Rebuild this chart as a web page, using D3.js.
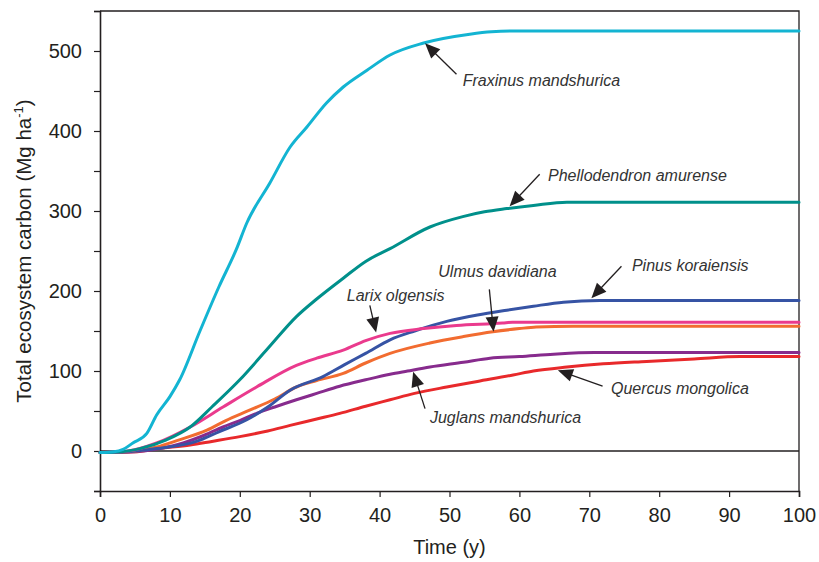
<!DOCTYPE html>
<html>
<head>
<meta charset="utf-8">
<script src="https://cdn.jsdelivr.net/npm/d3@7"></script>
<style>
  html, body { margin: 0; padding: 0; background: #fff; }
  svg { display: block; font-family: Arial, "Liberation Sans", sans-serif; }
</style>
</head>
<body>
<svg id="chart" width="819" height="562"></svg>
<script>
// Simulated total ecosystem carbon (Mg ha-1) over time (y) for seven tree species
const fraxinus = [[0,-2],[2,-1],[3.3,2],[4.7,10],[6.7,22],[8.1,45],[10,68],[11.4,89],[14.3,150],[17,205],[19.5,252],[21,285],[24.3,335],[27.2,380],[29.6,405],[32.4,435],[34.8,455],[38.2,476],[41.5,495],[46.3,510],[52.9,521],[56,524],[59.6,525],[100,525]];
const phellodendron = [[0,-2],[3,-1],[5.7,3],[9.5,14],[12.9,30],[16,55],[20,89],[24,128],[28.1,168],[31,190],[34.8,216],[38,237],[41.5,253],[47.2,280],[51.9,293],[55,299],[58.2,303],[62,307],[66.8,311],[100,311]];
const pinus = [[0,-2],[4,-1],[8.1,3],[13.8,12],[17,24],[21,39],[24,55],[27.2,76],[31.9,93],[35,108],[38,122],[41.5,139],[45,150],[49.6,162],[54,170],[58.2,176],[62,181],[66.3,186],[71.5,188],[100,188]];
const larix = [[0,-2],[4,0],[8.1,10],[12.9,30],[17.6,55],[22.4,80],[28.1,107],[31,116],[34.8,126],[38,138],[41.5,147],[46.3,153],[51,157],[57.6,160],[59,161],[100,161]];
const ulmus = [[0,-2],[4,-1],[8.1,5],[11,13],[15.3,26],[18,38],[21.4,51],[25,65],[28.1,80],[31,88],[34.8,97],[38,110],[41.5,122],[47.2,135],[52,143],[56.2,149],[60,153],[62.4,155],[67.7,156],[100,156]];
const juglans = [[0,-2],[5,-1],[8.5,3],[11.9,10],[15,20],[17.6,30],[20,38],[22.4,47],[25,55],[28.1,64],[31,72],[34.3,81],[38,89],[41.5,96],[44,100],[47.2,105],[52,111],[55.8,116],[60,118],[64.9,121],[70.7,123],[100,123]];
const quercus = [[0,-2],[5,-1],[8.1,3],[12.9,7.5],[16,12],[20,18],[24,25],[27.2,32],[31,40],[34.3,47],[38,56],[41.5,64],[45,72],[49.6,80],[54,87],[59.1,95],[62,100],[66.8,105],[72,109],[78.2,112],[85,115],[91.6,118],[100,118]];

const xTicks = [0,10,20,30,40,50,60,70,80,90,100];
const yTicks = [-50,0,50,100,150,200,250,300,350,400,450,500,550];
const yLabels = [0,100,200,300,400,500];

const series = [
  { name: "Quercus mongolica",       values: quercus,       color: "#e8292b" },
  { name: "Juglans mandshurica",     values: juglans,       color: "#872b8d" },
  { name: "Ulmus davidiana",         values: ulmus,         color: "#f26c30" },
  { name: "Pinus koraiensis",        values: pinus,         color: "#3653a4" },
  { name: "Larix olgensis",          values: larix,         color: "#ea3a8d" },
  { name: "Phellodendron amurense",  values: phellodendron, color: "#00908b" },
  { name: "Fraxinus mandshurica",    values: fraxinus,      color: "#13b4d2" }
];

// label anchor (start, baseline) and arrow tail -> tip, all in data units
const notes = [
  { text: "Fraxinus mandshurica",   at: [51.9,456],  tail: [51.0,471], tip: [46.5,509.6] },
  { text: "Phellodendron amurense", at: [64.1,337.5],tail: [62.9,346], tip: [58.6,306] },
  { text: "Pinus koraiensis",       at: [76.1,225],  tail: [74.6,231], tip: [70.3,191] },
  { text: "Ulmus davidiana",        at: [48.4,217.5],tail: [55.7,202], tip: [56.3,149] },
  { text: "Larix olgensis",         at: [35.3,187.5],tail: [38.6,182], tip: [39.5,148] },
  { text: "Juglans mandshurica",    at: [47.2,35],   tail: [46.5,53],  tip: [44.8,99] },
  { text: "Quercus mongolica",      at: [73.1,71],   tail: [71.9,81],  tip: [65.5,101] }
];

const svg = d3.select("#chart");
const x = d3.scaleLinear().domain([0, 100]).range([100, 799]);
const y = d3.scaleLinear().domain([-50, 550]).range([491, 11]);
const axisColor = "#231f20";

// frame (top and right edges)
svg.append("path")
  .attr("d", `M${x(0)},${y(550)}H${x(100)}V${y(-50)}`)
  .attr("fill", "none").attr("stroke", axisColor).attr("stroke-width", 1.3);

// zero line
svg.append("line")
  .attr("x1", x(0)).attr("x2", x(100)).attr("y1", y(0)).attr("y2", y(0))
  .attr("stroke", axisColor).attr("stroke-width", 1.5);

// y axis
const yAxis = svg.append("g").attr("transform", `translate(${x(0)},0)`)
  .call(d3.axisLeft(y).tickValues(yTicks).tickSize(6).tickPadding(12)
    .tickFormat(d => yLabels.includes(d) ? d : ""));
// x axis
const xAxis = svg.append("g").attr("transform", `translate(0,${y(-50)})`)
  .call(d3.axisBottom(x).tickValues(xTicks).tickSize(6).tickPadding(11));

[yAxis, xAxis].forEach(g => {
  g.select(".domain").attr("stroke", axisColor).attr("stroke-width", 1.6);
  g.selectAll(".tick line").attr("stroke", axisColor).attr("stroke-width", 1.2);
  g.selectAll(".tick text").attr("fill", "#231f20")
    .style("font-size", "20px").style("font-family", "Arial, 'Liberation Sans', sans-serif");
});

// curves
const line = d3.line().x(d => x(d[0])).y(d => y(d[1])).curve(d3.curveMonotoneX);
svg.append("g").selectAll("path").data(series).join("path")
  .attr("d", d => line(d.values))
  .attr("fill", "none")
  .attr("stroke", d => d.color)
  .attr("stroke-width", 3)
  .attr("stroke-linejoin", "round")
  .attr("stroke-linecap", "round");

// annotations
const ann = svg.append("g");
notes.forEach(n => {
  const tx = x(n.tail[0]), ty = y(n.tail[1]);
  const px = x(n.tip[0]), py = y(n.tip[1]);
  const dx = px - tx, dy = py - ty, len = Math.hypot(dx, dy);
  const ux = dx / len, uy = dy / len;
  const headLen = 15, headW = 6.5;
  const bx = px - ux * headLen, by = py - uy * headLen;
  ann.append("line")
    .attr("x1", tx).attr("y1", ty).attr("x2", bx + ux * 2).attr("y2", by + uy * 2)
    .attr("stroke", "#231f20").attr("stroke-width", 1.3);
  ann.append("path")
    .attr("d", `M${px},${py}L${bx - uy * headW},${by + ux * headW}L${bx + uy * headW},${by - ux * headW}Z`)
    .attr("fill", "#231f20");
  ann.append("text")
    .attr("x", x(n.at[0])).attr("y", y(n.at[1]))
    .attr("fill", "#333")
    .style("font-size", "16px").style("font-style", "italic")
    .text(n.text);
});

// axis titles
svg.append("text")
  .attr("x", x(50)).attr("y", 554)
  .attr("text-anchor", "middle").attr("fill", "#231f20")
  .style("font-size", "20px")
  .text("Time (y)");

const yt = svg.append("text")
  .attr("transform", `translate(31,${y(250)}) rotate(-90)`)
  .attr("text-anchor", "middle").attr("fill", "#231f20")
  .style("font-size", "20.5px");
yt.append("tspan").text("Total ecosystem carbon (Mg ha");
yt.append("tspan").attr("dy", -8).style("font-size", "13px").text("-1");
yt.append("tspan").attr("dy", 8).text(")");
</script>
</body>
</html>
